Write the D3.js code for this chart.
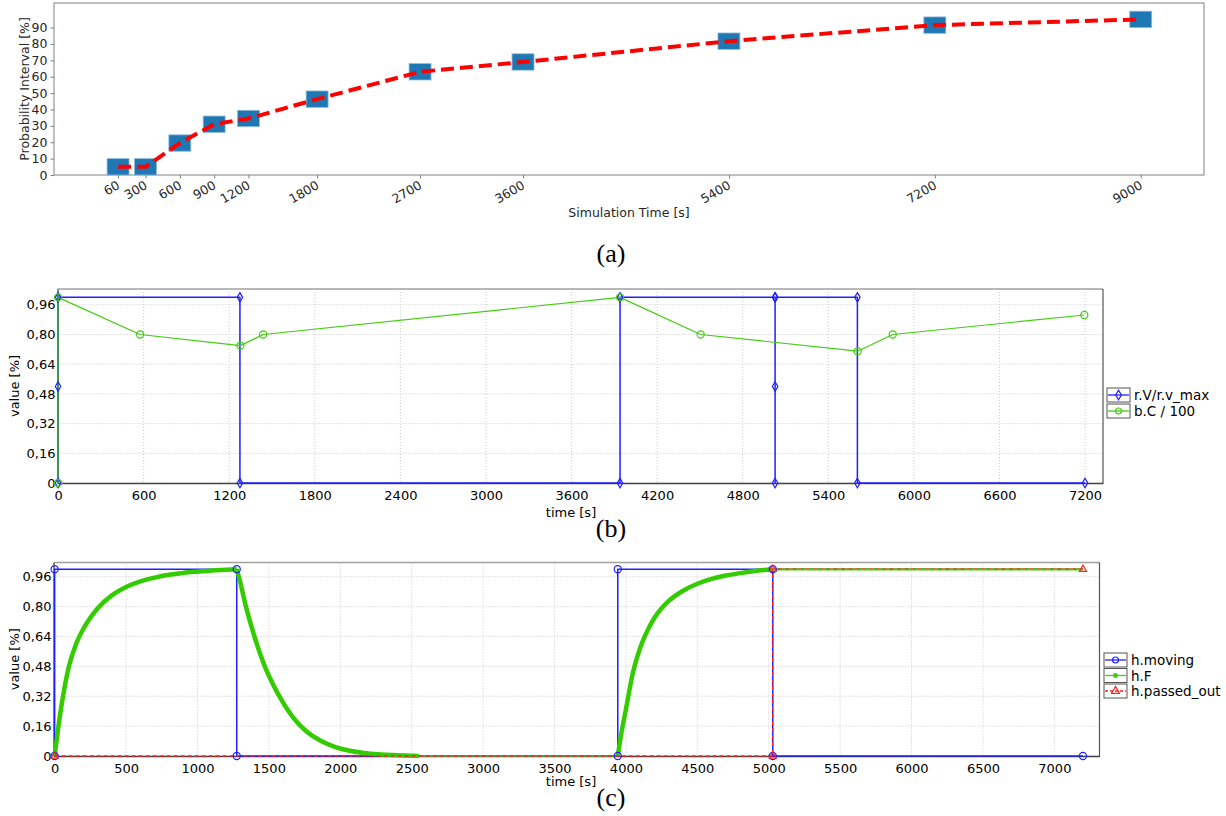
<!DOCTYPE html>
<html>
<head>
<meta charset="utf-8">
<script src="https://cdn.jsdelivr.net/npm/d3@7"></script>
<style>
  body { margin: 0; background: #fff; }
  text { font-family: "DejaVu Sans", sans-serif; }
  text.caption { font-family: "Liberation Serif", "Times New Roman", serif; }
</style>
</head>
<body>
<div id="chart"></div>
<script>
// ---- data: panel (a)
var simTimes = [60, 300, 600, 900, 1200, 1800, 2700, 3600, 5400, 7200, 9000];
var probInterval = [5, 5, 19.5, 31, 34.5, 46.3, 63, 69, 81.7, 91.5, 95];
var probTicks = [0, 10, 20, 30, 40, 50, 60, 70, 80, 90];

// ---- data: panel (b)
var rvTime  = [0, 0, 0, 1275, 1275, 3940, 3940, 5027, 5027, 5027, 5027, 5604, 5604, 7200];
var rvValue = [0, 0.52, 1, 1, 0, 0, 1, 1, 0, 0.52, 1, 1, 0, 0];
var bcTime  = [0, 0, 575, 1278, 1438, 3940, 4505, 5606, 5852, 7195];
var bcValue = [0, 1, 0.80, 0.74, 0.80, 1, 0.80, 0.71, 0.80, 0.905];
var timeTicksB = [0, 600, 1200, 1800, 2400, 3000, 3600, 4200, 4800, 5400, 6000, 6600, 7200];

// ---- data: panel (c)
var movingTime  = [0, 0, 1275, 1275, 3943, 3943, 5028, 5028, 7200];
var movingValue = [0, 1, 1, 0, 0, 1, 1, 0, 0];
var riseOneTime  = [0, 25, 50, 75, 100, 150, 200, 250, 300, 400, 500, 600, 700, 800, 900, 1000, 1100, 1200, 1275];
var riseOneValue = [0, 0.15, 0.28, 0.39, 0.48, 0.60, 0.68, 0.74, 0.79, 0.86, 0.905, 0.935, 0.955, 0.97, 0.98, 0.987, 0.993, 0.997, 1];
var decayTime  = [1275, 1300, 1333, 1391, 1461, 1566, 1666, 1766, 1866, 1966, 2066, 2166, 2266, 2400, 2550];
var decayValue = [1, 0.93, 0.82, 0.66, 0.50, 0.33, 0.21, 0.13, 0.08, 0.048, 0.028, 0.016, 0.009, 0.004, 0];
var riseTwoTime  = [3943, 3970, 4000, 4050, 4100, 4150, 4200, 4300, 4400, 4500, 4600, 4700, 4800, 4900, 5028];
var riseTwoValue = [0, 0.13, 0.25, 0.45, 0.58, 0.67, 0.74, 0.83, 0.885, 0.922, 0.948, 0.966, 0.979, 0.99, 1];
var flatTime  = [2550, 3943];
var flatValue = [0, 0];
var topTime  = [5028, 7200];
var topValue = [1, 1];
var passedTime  = [0, 5028, 5028, 7200];
var passedValue = [0, 0, 1, 1];
var timeTicksC = [0, 500, 1000, 1500, 2000, 2500, 3000, 3500, 4000, 4500, 5000, 5500, 6000, 6500, 7000];

var valueTicks = [0, 0.16, 0.32, 0.48, 0.64, 0.80, 0.96];

var blue = "#2020ff", green = "#44cc11", thickGreen = "#33cc00", red = "#ff2020";

var svg = d3.select("#chart").append("svg")
  .attr("width", 1226)
  .attr("height", 816);

// ================= panel (a)
var ax = { left: 54, right: 1204, top: 3, bottom: 175 };
var xA = d3.scaleLinear().domain([-500, 9553]).range([ax.left, ax.right]);
var yA = d3.scaleLinear().domain([0, 105]).range([ax.bottom, ax.top]);
var gA = svg.append("g");

var xAxisA = gA.append("g")
  .attr("transform", `translate(0, ${ax.bottom})`)
  .call(d3.axisBottom(xA).tickValues(simTimes).tickSize(3.5).tickFormat(d3.format("d")));
xAxisA.select(".domain").remove();
xAxisA.selectAll("line").attr("stroke", "#808080");
xAxisA.selectAll("text")
  .attr("font-size", "12.5px")
  .attr("fill", "#262626")
  .attr("text-anchor", "end")
  .attr("dy", "0.35em")
  .attr("y", 0)
  .attr("transform", "translate(0, 9) rotate(-30)");

var yAxisA = gA.append("g")
  .attr("transform", `translate(${ax.left}, 0)`)
  .call(d3.axisLeft(yA).tickValues(probTicks).tickSize(3.5));
yAxisA.select(".domain").remove();
yAxisA.selectAll("line").attr("stroke", "#808080");
yAxisA.selectAll("text").attr("font-size", "12.5px").attr("fill", "#262626");

gA.append("rect")
  .attr("x", ax.left).attr("y", ax.top)
  .attr("width", ax.right - ax.left).attr("height", ax.bottom - ax.top)
  .attr("fill", "none").attr("stroke", "#808080");

gA.selectAll(".box")
  .data(simTimes)
  .enter()
  .append("rect")
  .attr("class", "box")
  .attr("x", d => xA(d - 96))
  .attr("width", d => xA(d + 96) - xA(d - 96))
  .attr("y", (d, i) => yA(probInterval[i] + 5))
  .attr("height", (d, i) => yA(probInterval[i] - 5) - yA(probInterval[i] + 5))
  .attr("fill", "#1f77b4")
  .attr("stroke", "#8fbadc")
  .attr("stroke-width", 0.8);

gA.append("path")
  .datum(simTimes)
  .attr("d", d3.line().x(d => xA(d)).y((d, i) => yA(probInterval[i])))
  .attr("fill", "none")
  .attr("stroke", "red")
  .attr("stroke-width", 4)
  .attr("stroke-dasharray", "13,6");

gA.append("text")
  .attr("transform", "translate(29, 89) rotate(-90)")
  .attr("text-anchor", "middle")
  .attr("font-size", "12.5px")
  .attr("fill", "#262626")
  .text("Probability Interval [%]");

gA.append("text")
  .attr("x", 629).attr("y", 217)
  .attr("text-anchor", "middle")
  .attr("font-size", "12.5px")
  .attr("fill", "#262626")
  .text("Simulation Time [s]");

// ================= helpers for (b) and (c)
function makePanel(box, xDomain, yDomain, xTicks) {
  var x = d3.scaleLinear().domain(xDomain).range([box.left, box.right]);
  var y = d3.scaleLinear().domain(yDomain).range([box.bottom, box.top]);
  var g = svg.append("g");

  // grid
  g.selectAll(".vgrid").data(xTicks).enter().append("line")
    .attr("x1", d => x(d)).attr("x2", d => x(d))
    .attr("y1", box.top).attr("y2", box.bottom)
    .attr("stroke", "#c8c8c8").attr("stroke-dasharray", "1,2");
  g.selectAll(".hgrid").data(valueTicks).enter().append("line")
    .attr("x1", box.left).attr("x2", box.right)
    .attr("y1", d => y(d)).attr("y2", d => y(d))
    .attr("stroke", "#c8c8c8").attr("stroke-dasharray", "1,2");

  // frame
  g.append("line").attr("x1", box.left).attr("x2", box.right)
    .attr("y1", box.top).attr("y2", box.top)
    .attr("stroke", "#a0a0a0").attr("stroke-width", 1.5);
  g.append("line").attr("x1", box.right).attr("x2", box.right)
    .attr("y1", box.top).attr("y2", box.bottom)
    .attr("stroke", "#555").attr("stroke-width", 1.2);

  var xAxis = g.append("g")
    .attr("transform", `translate(0, ${box.bottom})`)
    .call(d3.axisBottom(x).tickValues(xTicks).tickSize(0).tickPadding(8).tickFormat(d3.format("d")));
  xAxis.select(".domain").attr("stroke", "#444").attr("stroke-width", 1.3);
  xAxis.selectAll("text").attr("font-size", "13px").attr("fill", "#000");

  var yAxis = g.append("g")
    .attr("transform", `translate(${box.left}, 0)`)
    .call(d3.axisLeft(y).tickValues(valueTicks).tickSize(0).tickPadding(2)
      .tickFormat(d => d === 0 ? "0" : d.toFixed(2).replace(".", ",")));
  yAxis.select(".domain").attr("stroke", "#444").attr("stroke-width", 1.3);
  yAxis.selectAll("text").attr("font-size", "13px").attr("fill", "#000");

  g.append("text")
    .attr("transform", `translate(${box.ylabelX}, ${(box.top + box.bottom) / 2}) rotate(-90)`)
    .attr("text-anchor", "middle")
    .attr("font-size", "13px")
    .text("value [%]");
  g.append("text")
    .attr("x", 571).attr("y", box.bottom + box.xlabelDy)
    .attr("text-anchor", "middle")
    .attr("font-size", "13px")
    .text("time [s]");

  return { x: x, y: y, g: g };
}

function drawSeries(p, times, values, color, width, dash, curve) {
  var line = d3.line()
    .x(d => p.x(d))
    .y((d, i) => p.y(values[i]));
  if (curve) line.curve(curve);
  p.g.append("path")
    .datum(times)
    .attr("d", line)
    .attr("fill", "none")
    .attr("stroke", color)
    .attr("stroke-width", width)
    .attr("stroke-dasharray", dash || null)
    .attr("stroke-linejoin", "round");
}

function drawMarkers(p, times, values, color, shape, size) {
  p.g.selectAll(null)
    .data(times)
    .enter()
    .append("path")
    .attr("transform", (d, i) => `translate(${p.x(d)}, ${p.y(values[i])})`)
    .attr("d", d3.symbol().type(shape).size(size))
    .attr("fill", "none")
    .attr("stroke", color)
    .attr("stroke-width", 1.2);
}

function legendEntry(p, x, y, label, color, shape, dash, filled) {
  var g = p.g.append("g").attr("transform", `translate(${x}, ${y})`);
  g.append("rect").attr("x", 0).attr("y", -7).attr("width", 23).attr("height", 14)
    .attr("fill", "#fff").attr("stroke", "#555");
  g.append("line").attr("x1", 1).attr("x2", 22).attr("y1", 0).attr("y2", 0)
    .attr("stroke", color).attr("stroke-width", 1.3).attr("stroke-dasharray", dash || null);
  g.append("path").attr("transform", "translate(11.5, 0)")
    .attr("d", d3.symbol().type(shape).size(filled ? 12 : 28))
    .attr("fill", filled ? color : "none")
    .attr("stroke", color).attr("stroke-width", 1.2);
  g.append("text").attr("x", 27).attr("y", 5).attr("font-size", "13.5px").text(label);
}

// ================= panel (b)
var pB = makePanel({ left: 57.5, right: 1103, top: 289, bottom: 483, ylabelX: 19, xlabelDy: 34 },
  [-4, 7326], [0, 1.045], timeTicksB);
drawSeries(pB, rvTime, rvValue, blue, 1.5);
drawSeries(pB, bcTime, bcValue, green, 1.2);
drawMarkers(pB, rvTime, rvValue, blue, d3.symbolDiamond, 26);
drawMarkers(pB, bcTime, bcValue, green, d3.symbolCircle, 40);
legendEntry(pB, 1107, 395, "r.V/r.v_max", blue, d3.symbolDiamond);
legendEntry(pB, 1107, 411, "b.C / 100", green, d3.symbolCircle);

// ================= panel (c)
var pC = makePanel({ left: 53.5, right: 1099.5, top: 562.5, bottom: 756, ylabelX: 19, xlabelDy: 30 },
  [-8, 7316], [0, 1.036], timeTicksC);
drawSeries(pC, movingTime, movingValue, blue, 1.5);
drawSeries(pC, flatTime, flatValue, green, 1.3);
drawSeries(pC, topTime, topValue, green, 2.5);
drawSeries(pC, riseOneTime, riseOneValue, thickGreen, 4.5, null, d3.curveMonotoneX);
drawSeries(pC, decayTime, decayValue, thickGreen, 4.5, null, d3.curveMonotoneX);
drawSeries(pC, riseTwoTime, riseTwoValue, thickGreen, 4.5, null, d3.curveMonotoneX);
drawSeries(pC, passedTime, passedValue, red, 1.3, "4,3");
drawSeries(pC, topTime, topValue, "#ff6080", 1.6, "5,3");
drawMarkers(pC, movingTime, movingValue, blue, d3.symbolCircle, 40);
drawMarkers(pC, passedTime, passedValue, red, d3.symbolTriangle, 22);
legendEntry(pC, 1104, 660, "h.moving", blue, d3.symbolCircle);
legendEntry(pC, 1104, 675.5, "h.F", green, d3.symbolCircle, null, true);
legendEntry(pC, 1104, 691, "h.passed_out", red, d3.symbolTriangle, "3,2");

// ================= captions
var captions = [["(a)", 262], ["(b)", 537], ["(c)", 806]];
svg.selectAll(".caption")
  .data(captions)
  .enter()
  .append("text")
  .attr("class", "caption")
  .attr("x", 611)
  .attr("y", d => d[1])
  .attr("text-anchor", "middle")
  .attr("font-size", "26px")
  .text(d => d[0]);
</script>
</body>
</html>
